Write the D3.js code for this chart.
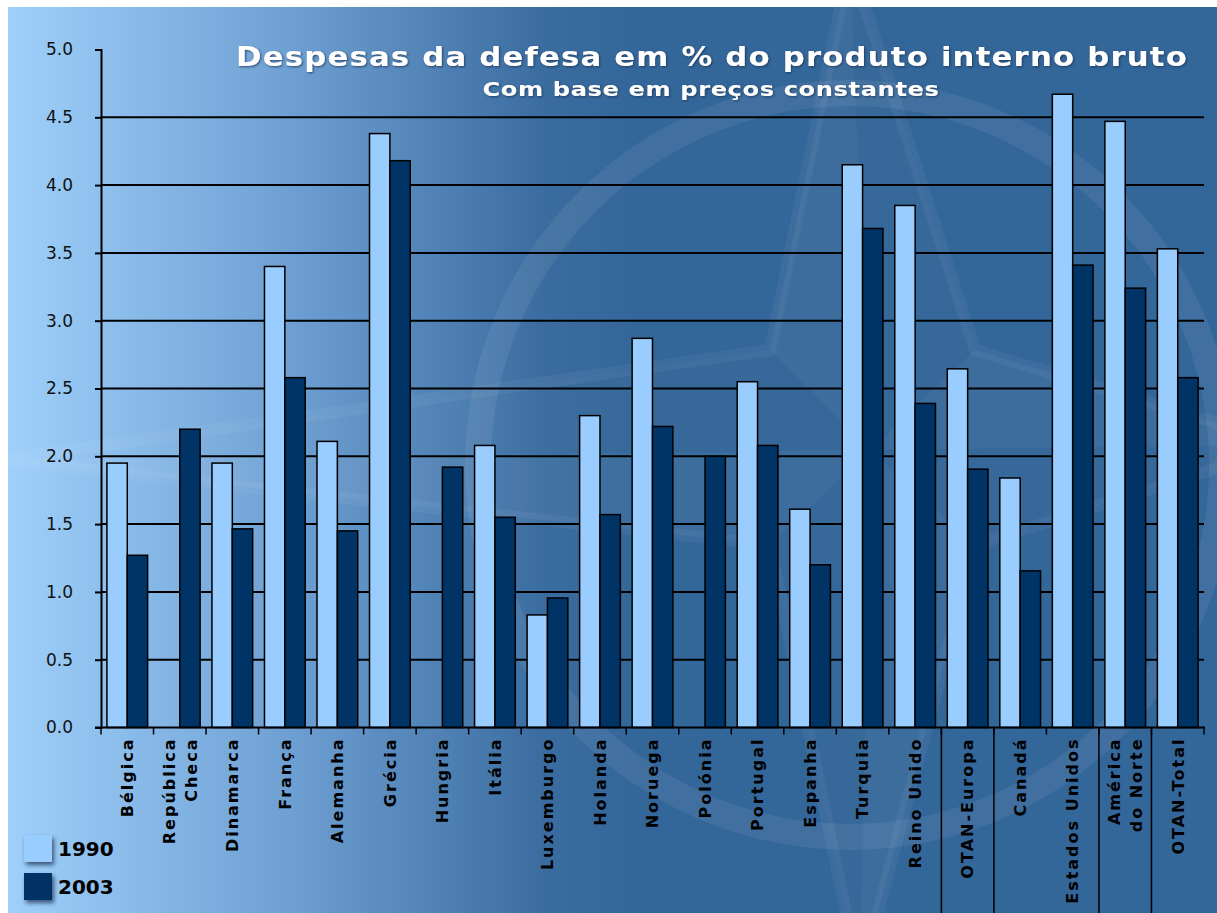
<!DOCTYPE html>
<html lang="pt">
<head>
<meta charset="UTF-8">
<title>Despesas da defesa em % do PIB</title>
<style>
  body { margin: 0; background: #fff; }
  svg { display: block; }
  .title { font-family: "DejaVu Sans", Verdana, sans-serif; font-weight: bold; fill: #fff; }
  .ylab text { font-family: "DejaVu Sans", Verdana, sans-serif; font-size: 17px; fill: #111; }
  .xlab { font-family: "DejaVu Sans", Verdana, sans-serif; font-weight: bold; font-size: 16px; letter-spacing: 2px; fill: #000; }
  .legend-text { font-family: "DejaVu Sans", Verdana, sans-serif; font-weight: bold; font-size: 20px; fill: #000; }
</style>
</head>
<body>
<div id="chart"></div>
<script src="https://d3js.org/d3.v7.min.js"></script>
<script>
// data
var categories = ["Bélgica", "República\nCheca", "Dinamarca", "França", "Alemanha", "Grécia",
  "Hungria", "Itália", "Luxemburgo", "Holanda", "Noruega", "Polónia", "Portugal", "Espanha",
  "Turquia", "Reino Unido", "OTAN-Europa", "Canadá", "Estados Unidos", "América\ndo Norte", "OTAN-Total"];
var series = ["1990", "2003"];
var values1990 = [1.95, null, 1.95, 3.40, 2.11, 4.38, null, 2.08, 0.83, 2.30, 2.87, null, 2.55, 1.61,
  4.15, 3.85, 2.645, 1.84, 4.67, 4.47, 3.53];
var values2003 = [1.27, 2.20, 1.465, 2.58, 1.45, 4.18, 1.92, 1.55, 0.955, 1.57, 2.22, 2.00, 2.08, 1.20,
  3.68, 2.39, 1.905, 1.155, 3.41, 3.24, 2.58];
var yTicks = [0, 0.5, 1, 1.5, 2, 2.5, 3, 3.5, 4, 4.5, 5];
// categories that start a new group (long divider line on their left)
var groupStarts = ["OTAN-Europa", "Canadá", "América\ndo Norte", "OTAN-Total"];

var W = 1217, H = 913;
var colors = { "1990": "#99ccff", "2003": "#003366" };

var svg = d3.select("#chart").append("svg")
  .attr("width", W)
  .attr("height", H);

var defs = svg.append("defs");
var grad = defs.append("linearGradient")
  .attr("id", "bg")
  .attr("gradientUnits", "userSpaceOnUse")
  .attr("x1", 8).attr("y1", 0).attr("x2", 640).attr("y2", 0);
grad.append("stop").attr("offset", 0).attr("stop-color", "#9fd0fb");
grad.append("stop").attr("offset", 0.45).attr("stop-color", "#6d9fd2");
grad.append("stop").attr("offset", 0.85).attr("stop-color", "#3a6c9f");
grad.append("stop").attr("offset", 1).attr("stop-color", "#336699");

var sh = defs.append("filter").attr("id", "shadow")
  .attr("x", "-30%").attr("y", "-30%").attr("width", "160%").attr("height", "160%");
sh.append("feDropShadow").attr("dx", 2).attr("dy", 3).attr("stdDeviation", 2)
  .attr("flood-color", "#0a2440").attr("flood-opacity", 0.7);

var glow = defs.append("filter").attr("id", "glow")
  .attr("x", "-5%").attr("y", "-30%").attr("width", "110%").attr("height", "160%");
glow.append("feDropShadow").attr("dx", 1).attr("dy", 1).attr("stdDeviation", 1.2)
  .attr("flood-color", "#12304f").attr("flood-opacity", 0.8);

// background
svg.append("rect")
  .attr("x", 8).attr("y", 7)
  .attr("width", W - 8).attr("height", H - 7)
  .attr("fill", "url(#bg)");

// faint compass star watermark
var wm = svg.append("g").attr("fill", "none");
var cx = 870, cy = 450;
wm.append("circle")
  .attr("cx", 850).attr("cy", 465).attr("r", 372)
  .attr("stroke", "#fff").attr("stroke-opacity", 0.07).attr("stroke-width", 26);
var tips = [[850, -40], [1290, 445], [860, 980], [0, 460]];
var inner = [[975, 350], [975, 545], [770, 545], [770, 350]];
var starPts = [];
tips.forEach(function(t, i) {
  starPts.push(t);
  starPts.push(inner[i]);
});
wm.append("polygon")
  .attr("points", starPts.map(function(p) { return p.join(","); }).join(" "))
  .attr("stroke", "#fff").attr("stroke-opacity", 0.05).attr("stroke-width", 12)
  .attr("fill", "#fff").attr("fill-opacity", 0.015);
tips.forEach(function(t, i) {
  wm.append("polygon")
    .attr("points", [t, [cx, cy], inner[(i + 3) % 4]].map(function(p) { return p.join(","); }).join(" "))
    .attr("fill", "#fff").attr("fill-opacity", 0.035);
});

// scales
var x0 = d3.scaleBand()
  .domain(categories)
  .range([101, 1204])
  .padding(0);

var x1 = d3.scaleBand()
  .domain(series)
  .range([0, x0.bandwidth()])
  .paddingInner(0)
  .paddingOuter(0.29);

var y = d3.scaleLinear()
  .domain([0, 5])
  .range([727.5, 49.5]);

// gridlines
svg.append("g").selectAll("line")
  .data(yTicks.filter(function(d) { return d > 0 && d < 5; }))
  .join("line")
  .attr("x1", 101).attr("x2", 1204)
  .attr("y1", function(d) { return y(d); })
  .attr("y2", function(d) { return y(d); })
  .attr("stroke", "#000")
  .attr("stroke-width", 2);

// group dividers below the axis
svg.append("g").selectAll("line")
  .data(groupStarts)
  .join("line")
  .attr("x1", function(d) { return x0(d); })
  .attr("x2", function(d) { return x0(d); })
  .attr("y1", y(0))
  .attr("y2", H)
  .attr("stroke", "#000")
  .attr("stroke-width", 1.5);

// bars
var rows = categories.map(function(c, i) {
  return { cat: c, vals: [{ s: "1990", v: values1990[i] }, { s: "2003", v: values2003[i] }] };
});

var groups = svg.append("g").selectAll("g")
  .data(rows)
  .join("g")
  .attr("transform", function(d) { return "translate(" + x0(d.cat) + ",0)"; });

groups.selectAll("rect")
  .data(function(d) { return d.vals.filter(function(v) { return v.v != null; }); })
  .join("rect")
  .attr("x", function(d) { return x1(d.s); })
  .attr("width", x1.bandwidth())
  .attr("y", function(d) { return y(d.v); })
  .attr("height", function(d) { return y(0) - y(d.v); })
  .attr("fill", function(d) { return colors[d.s]; })
  .attr("stroke", "#000")
  .attr("stroke-width", 1.5);

// y axis
var yAxis = d3.axisLeft(y)
  .tickValues(yTicks)
  .tickFormat(d3.format(".1f"))
  .tickSize(6)
  .tickPadding(22);

var ya = svg.append("g")
  .attr("class", "ylab")
  .attr("transform", "translate(101,0)")
  .call(yAxis);
ya.select(".domain").attr("stroke", "#000").attr("stroke-width", 2);
ya.selectAll(".tick line").attr("stroke", "#000").attr("stroke-width", 2);

// x axis line and ticks at band edges
svg.append("line")
  .attr("x1", 95).attr("x2", 1205)
  .attr("y1", y(0)).attr("y2", y(0))
  .attr("stroke", "#000").attr("stroke-width", 2);

var edges = categories.map(function(c) { return x0(c); }).concat([x0.range()[1]]);
svg.append("g").selectAll("line")
  .data(edges)
  .join("line")
  .attr("x1", function(d) { return d; })
  .attr("x2", function(d) { return d; })
  .attr("y1", y(0))
  .attr("y2", y(0) + 7)
  .attr("stroke", "#000")
  .attr("stroke-width", 1.5);

// x labels, rotated
var labels = svg.append("g").selectAll("g")
  .data(categories)
  .join("g")
  .attr("transform", function(d) {
    return "translate(" + (x0(d) + x0.bandwidth() / 2) + "," + (y(0) + 10) + ") rotate(-90)";
  });

labels.each(function(d) {
  var lines = d.split("\n");
  var g = d3.select(this);
  lines.forEach(function(line, i) {
    var off = (i - (lines.length - 1) / 2) * 22;
    g.append("text")
      .attr("class", "xlab")
      .attr("text-anchor", "end")
      .attr("x", 0)
      .attr("y", off)
      .attr("dy", "0.36em")
      .text(line);
  });
});

// title
svg.append("text")
  .attr("class", "title")
  .attr("x", 712).attr("y", 66)
  .attr("text-anchor", "middle")
  .attr("font-size", 26)
  .attr("letter-spacing", 1)
  .attr("textLength", 952)
  .attr("lengthAdjust", "spacingAndGlyphs")
  .attr("filter", "url(#glow)")
  .text("Despesas da defesa em % do produto interno bruto");

svg.append("text")
  .attr("class", "title")
  .attr("x", 711).attr("y", 96)
  .attr("text-anchor", "middle")
  .attr("font-size", 20)
  .attr("letter-spacing", 0.5)
  .attr("textLength", 457)
  .attr("lengthAdjust", "spacingAndGlyphs")
  .attr("filter", "url(#glow)")
  .text("Com base em preços constantes");

// legend
var legend = svg.append("g").selectAll("g")
  .data(series)
  .join("g")
  .attr("transform", function(d, i) { return "translate(24," + (835 + i * 38) + ")"; });

legend.append("rect")
  .attr("width", 28).attr("height", 27)
  .attr("fill", function(d) { return colors[d]; })
  .attr("filter", "url(#shadow)");

legend.append("text")
  .attr("class", "legend-text")
  .attr("x", 34).attr("y", 21)
  .text(function(d) { return d; });
</script>
</body>
</html>
